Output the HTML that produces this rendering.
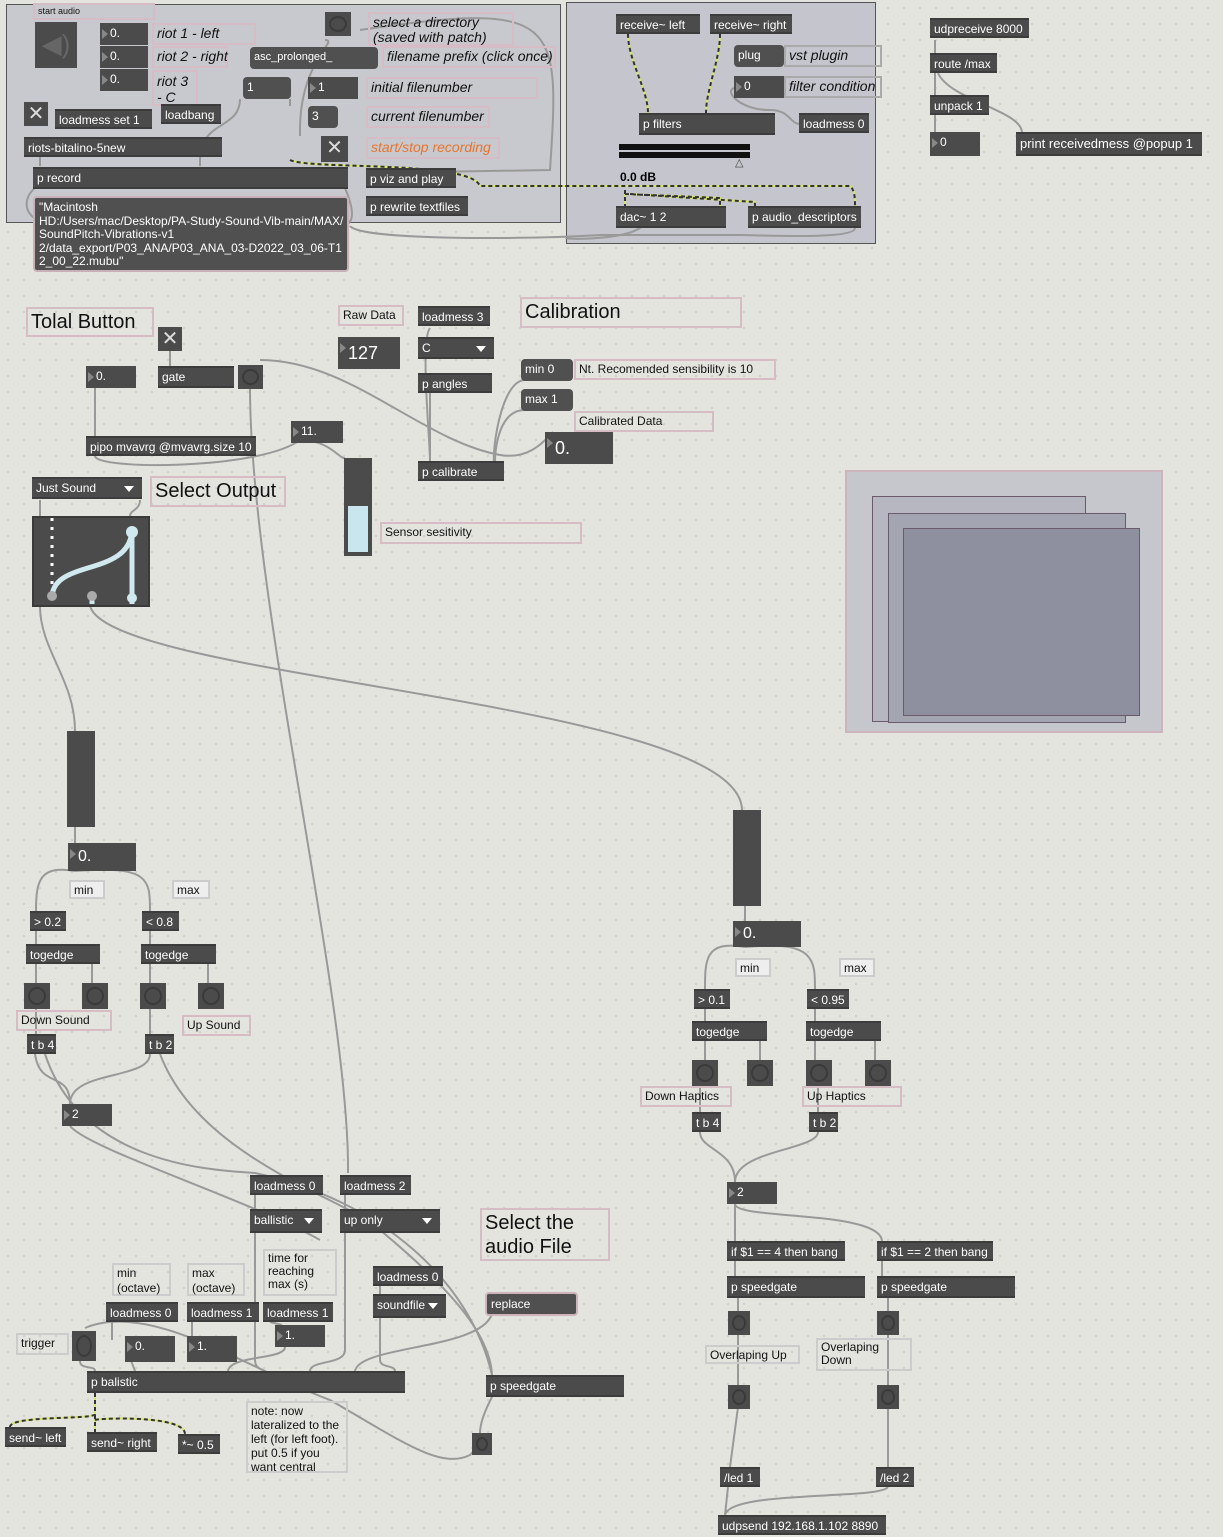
<!DOCTYPE html>
<html><head><meta charset="utf-8"><style>
body{margin:0;width:1223px;height:1537px;position:relative;overflow:hidden;background:#e4e4df;font-family:"Liberation Sans",sans-serif;
background-image:radial-gradient(#c9c9c4 0.8px,transparent 1px);background-size:16px 16px;}
div{position:absolute;box-sizing:border-box;white-space:nowrap}
.o{background:#4b4b4b;color:#fff;font-size:12px;line-height:18px;height:20px;padding-left:4px;border-top:2px solid #3c3c3c;border-bottom:2px solid #3c3c3c}
.m{background:#505050;color:#fff;font-size:12px;line-height:20px;height:22px;padding-left:4px;border-radius:4px}
.n{background:#4b4b4b;color:#fff;font-size:12px;line-height:20px;height:22px;padding-left:10px}
.n:before{content:"";position:absolute;left:2px;top:6px;border-left:6px solid #888;border-top:5px solid transparent;border-bottom:5px solid transparent}
.c{border:2px solid #d6bcc4;color:#111;font-size:12px;line-height:15px;padding:1px 3px}
.i{font-style:italic;font-size:14px}
.b{background:#4b4b4b;}
.b:after{content:"";position:absolute;left:4px;top:4px;right:4px;bottom:4px;border:2px solid #3a3a3a;border-radius:50%}
.t{background:#4b4b4b;color:#ddd;text-align:center;font-size:20px;line-height:24px}
.u:after{content:"";position:absolute;right:8px;top:7px;border-top:6px solid #fff;border-left:5px solid transparent;border-right:5px solid transparent}
.big{font-size:20px;line-height:24px}
.sl{background:#4b4b4b}
</style></head><body>
<!-- panels -->
<div style="left:6px;top:4px;width:555px;height:219px;background:#c8c9ce;border:1px solid #555;"></div>
<div style="left:566px;top:2px;width:310px;height:242px;background:#c5c6cd;border:1px solid #555;"></div>
<div style="left:845px;top:470px;width:318px;height:263px;background:#c6c7cd;border:2px solid #cdb3bc;"></div>
<div style="left:872px;top:496px;width:214px;height:226px;border:1px solid #6a5a6a;background:#b6b7c0"></div>
<div style="left:888px;top:513px;width:238px;height:210px;border:1px solid #6a5a6a;background:#a3a5b1"></div>
<div style="left:903px;top:528px;width:237px;height:188px;border:1px solid #6a5a6a;background:#8e90a0"></div>

<svg width="1223" height="1537" style="position:absolute;left:0;top:0" fill="none" stroke="#999" stroke-width="2">
<path d="M40 156 L40 166"/><path d="M240 99 C240 130 200 120 200 160 L200 166"/>
<path d="M325 40 C340 40 300 60 300 130"/><path d="M360 30 C560 0 560 20 550 170 L430 172"/>
<path d="M290 99 L290 106"/><path d="M300 128 L300 136"/>
<path d="M35 188 C20 200 20 230 80 226 L340 226 C360 226 350 200 345 188"/>
<path d="M350 226 C360 240 520 240 600 235 L740 235 C760 235 855 240 855 228"/>
<path d="M645 220 C645 240 566 240 566 238"/>
<path d="M740 88 C720 85 735 110 770 110 C790 110 790 124 800 124"/>
<path d="M935 40 L935 53 M935 73 L935 95 M935 115 L935 132"/><path d="M938 73 C950 100 1020 110 1022 132"/>
<path d="M95 388 L95 436"/><path d="M95 456 C95 470 260 470 300 440"/><path d="M170 350 L170 366"/>
<path d="M250 388 C250 600 350 1000 348 1173"/><path d="M260 360 C350 360 420 440 500 455 C530 460 545 440 553 432"/>
<path d="M430 328 C420 340 430 440 430 461"/><path d="M430 393 L430 461"/><path d="M525 410 C495 410 495 461 495 461"/>
<path d="M525 380 C500 380 490 460 495 470"/><path d="M360 556 C360 520 370 470 350 460"/><path d="M300 440 C330 440 340 460 345 458"/>
<path d="M40 606 C40 650 75 680 75 731"/><path d="M90 606 C110 680 740 700 742 810"/>
<path d="M40 500 L40 516"/><path d="M140 500 C140 510 130 510 130 516"/>
<path d="M75 827 L75 843"/><path d="M75 871 C40 865 36 880 36 911"/><path d="M75 871 C150 865 150 880 150 911"/>
<path d="M36 931 L36 944 M150 931 L150 944 M36 964 L36 983 M150 964 L150 983 M92 964 L92 983 M208 964 L208 983"/>
<path d="M36 1009 L36 1034 M150 1009 L150 1034"/>
<path d="M35 1054 C40 1090 70 1070 70 1104"/><path d="M150 1054 C150 1080 70 1070 70 1104"/>
<path d="M45 1054 C80 1160 200 1170 255 1173 C380 1200 470 1280 492 1375"/>
<path d="M160 1054 C200 1160 350 1200 380 1230 C440 1280 490 1330 492 1375"/>
<path d="M70 1126 C90 1150 250 1200 320 1240"/>
<path d="M255 1193 L255 1209 M345 1193 L345 1209 M380 1285 L380 1294"/>
<path d="M255 1231 L255 1360 C255 1370 265 1370 265 1371"/><path d="M345 1231 L345 1350 C345 1365 310 1360 310 1371"/>
<path d="M380 1316 L380 1360 C380 1368 395 1365 395 1371"/><path d="M492 1314 C480 1350 360 1345 355 1371"/>
<path d="M112 1322 L112 1340 M192 1322 L192 1336 M270 1322 L282 1325 M285 1347 C285 1360 230 1355 228 1371"/>
<path d="M80 1361 C80 1370 95 1365 95 1371 M130 1358 L135 1371"/>
<path d="M85 1328 C150 1300 250 1370 330 1400 C400 1440 440 1470 470 1455 L478 1446"/>
<path d="M492 1397 C480 1420 480 1430 480 1433"/>
<path d="M745 906 L745 921"/><path d="M745 947 C705 940 705 960 705 989"/><path d="M745 947 C815 940 815 960 815 989"/>
<path d="M705 1009 L705 1021 M815 1009 L815 1021 M705 1041 L705 1060 M815 1041 L815 1060 M760 1041 L760 1060 M875 1041 L875 1060"/>
<path d="M700 1086 L700 1112 M818 1086 L818 1112"/>
<path d="M700 1132 C700 1150 735 1150 735 1182 M818 1132 C818 1150 735 1150 735 1182"/>
<path d="M735 1204 L735 1241 M735 1204 C735 1220 880 1210 882 1241"/>
<path d="M735 1261 L735 1276 M882 1261 L882 1276 M738 1298 L738 1311 M888 1298 L888 1311 M738 1333 L738 1385 M888 1333 L888 1385 M738 1407 L730 1467 M888 1407 L888 1467"/>
<path d="M728 1487 L725 1515 M888 1487 C880 1500 730 1490 725 1515"/>
</svg>
<svg width="1223" height="1537" style="position:absolute;left:0;top:0" fill="none" stroke-width="2">
<g stroke="#d6e66a">
<path d="M628 34 C628 60 648 90 648 113"/><path d="M720 34 C720 60 706 90 706 113"/>
<path d="M290 160 C310 170 470 160 480 186 L850 186 C855 190 855 200 855 206"/>
<path d="M625 190 L625 206 M625 194 L720 198 L720 206 M630 194 L755 202 L755 206"/>
<path d="M95 1393 L95 1414 C95 1420 10 1415 10 1427 M95 1415 L95 1432 M95 1420 C100 1418 185 1415 185 1434"/>
</g>
<g stroke="#333" stroke-dasharray="4,3">
<path d="M628 34 C628 60 648 90 648 113"/><path d="M720 34 C720 60 706 90 706 113"/>
<path d="M290 160 C310 170 470 160 480 186 L850 186 C855 190 855 200 855 206"/>
<path d="M625 190 L625 206 M625 194 L720 198 L720 206 M630 194 L755 202 L755 206"/>
<path d="M95 1393 L95 1414 C95 1420 10 1415 10 1427 M95 1415 L95 1432 M95 1420 C100 1418 185 1415 185 1434"/>
</g>
</svg>

<!-- top left -->
<div class="c" style="left:33px;top:3px;width:122px;height:17px;font-size:9px;line-height:11px">start audio</div>
<div class="sl" style="left:35px;top:22px;width:42px;height:46px;color:#666;font-size:26px;text-align:center;line-height:44px">◀)</div>
<div class="n" style="left:100px;top:23px;width:48px">0.</div>
<div class="n" style="left:100px;top:46px;width:48px">0.</div>
<div class="n" style="left:100px;top:69px;width:48px">0.</div>
<div class="c i" style="left:152px;top:23px;width:104px;height:22px">riot 1 - left</div>
<div class="c i" style="left:152px;top:46px;width:76px;height:22px">riot 2 - right</div>
<div class="c i" style="left:152px;top:70px;width:46px;height:36px;line-height:16px">riot 3<br>- C</div>
<div class="b" style="left:325px;top:12px;width:26px;height:24px"></div>
<div class="c i" style="left:368px;top:12px;width:146px;height:34px;white-space:normal;line-height:15px">select a directory (saved with patch)</div>
<div class="m" style="left:250px;top:47px;width:128px;font-size:11px">asc_prolonged_</div>
<div class="c i" style="left:382px;top:46px;width:174px;height:22px">filename prefix (click once)</div>
<div class="m" style="left:243px;top:77px;width:48px">1</div>
<div class="n" style="left:308px;top:77px;width:50px">1</div>
<div class="c i" style="left:366px;top:77px;width:172px;height:22px">initial filenumber</div>
<div class="m" style="left:308px;top:106px;width:30px">3</div>
<div class="c i" style="left:366px;top:106px;width:124px;height:22px">current filenumber</div>
<div class="t" style="left:321px;top:136px;width:27px;height:26px">✕</div>
<div class="c i" style="left:366px;top:137px;width:134px;height:22px;color:#e8742c">start/stop recording</div>
<div class="t" style="left:24px;top:102px;width:24px;height:24px">✕</div>
<div class="o" style="left:55px;top:109px;width:97px">loadmess set 1</div>
<div class="o" style="left:161px;top:104px;width:60px">loadbang</div>
<div class="o" style="left:24px;top:137px;width:198px">riots-bitalino-5new</div>
<div class="o" style="left:33px;top:167px;width:315px;height:22px">p record</div>
<div class="o" style="left:366px;top:168px;width:90px">p viz and play</div>
<div class="o" style="left:366px;top:196px;width:102px">p rewrite textfiles</div>
<div class="m" style="left:33px;top:196px;width:316px;height:76px;line-height:13.5px;padding-top:3px;border:2px solid #c8b0b8">"Macintosh<br>HD:/Users/mac/Desktop/PA-Study-Sound-Vib-main/MAX/<br>SoundPitch-Vibrations-v1<br>2/data_export/P03_ANA/P03_ANA_03-D2022_03_06-T1<br>2_00_22.mubu"</div>

<!-- panel 2 -->
<div class="o" style="left:616px;top:14px;width:84px">receive~ left</div>
<div class="o" style="left:710px;top:14px;width:82px">receive~ right</div>
<div class="m" style="left:734px;top:45px;width:50px">plug</div>
<div class="c i" style="left:784px;top:45px;width:98px;height:22px;border-color:#aaa">vst plugin</div>
<div class="n" style="left:734px;top:76px;width:50px">0</div>
<div class="c i" style="left:784px;top:76px;width:98px;height:22px;border-color:#aaa">filter condition</div>
<div class="o" style="left:639px;top:113px;width:136px;height:22px">p filters</div>
<div class="o" style="left:799px;top:113px;width:70px">loadmess 0</div>
<div style="left:619px;top:144px;width:131px;height:6px;background:#111"></div>
<div style="left:619px;top:152px;width:131px;height:6px;background:#111"></div>
<div style="left:735px;top:156px;color:#444;font-size:11px">△</div>
<div style="left:620px;top:170px;font-size:12px;font-weight:bold">0.0 dB</div>
<div class="o" style="left:616px;top:206px;width:110px;height:22px">dac~ 1 2</div>
<div class="o" style="left:748px;top:206px;width:113px;height:22px">p audio_descriptors</div>

<!-- top right -->
<div class="o" style="left:930px;top:18px;width:99px">udpreceive 8000</div>
<div class="o" style="left:930px;top:53px;width:67px">route /max</div>
<div class="o" style="left:930px;top:95px;width:59px">unpack 1</div>
<div class="n" style="left:930px;top:132px;width:50px;height:24px">0</div>
<div class="o" style="left:1016px;top:132px;width:186px;height:24px;line-height:20px;font-size:13px">print receivedmess @popup 1</div>

<!-- middle -->
<div class="c big" style="left:26px;top:307px;width:128px;height:30px">Tolal Button</div>
<div class="t" style="left:158px;top:327px;width:24px;height:24px">✕</div>
<div class="n" style="left:86px;top:366px;width:50px">0.</div>
<div class="o" style="left:158px;top:366px;width:76px;height:22px">gate</div>
<div class="b" style="left:238px;top:365px;width:25px;height:24px"></div>
<div class="o" style="left:86px;top:436px;width:170px">pipo mvavrg @mvavrg.size 10</div>
<div class="n" style="left:291px;top:421px;width:52px">11.</div>
<div class="c" style="left:338px;top:305px;width:66px;height:21px">Raw Data</div>
<div class="n" style="left:338px;top:337px;width:62px;height:32px;font-size:18px;line-height:32px">127</div>
<div class="o" style="left:418px;top:306px;width:72px">loadmess 3</div>
<div class="o u" style="left:418px;top:337px;width:76px;height:22px">C</div>
<div class="o" style="left:418px;top:373px;width:74px">p angles</div>
<div class="o" style="left:418px;top:461px;width:86px">p calibrate</div>
<div class="c big" style="left:520px;top:297px;width:222px;height:31px">Calibration</div>
<div class="m" style="left:521px;top:359px;width:52px">min 0</div>
<div class="c" style="left:574px;top:359px;width:202px;height:21px">Nt. Recomended sensibility is 10</div>
<div class="m" style="left:521px;top:389px;width:52px">max 1</div>
<div class="c" style="left:574px;top:411px;width:140px;height:21px">Calibrated Data</div>
<div class="n" style="left:545px;top:432px;width:68px;height:32px;font-size:18px;line-height:32px">0.</div>
<div class="sl" style="left:344px;top:458px;width:28px;height:98px"><div style="left:4px;top:48px;width:20px;height:46px;background:#c9e6ee"></div></div>
<div class="c" style="left:380px;top:522px;width:202px;height:22px">Sensor sesitivity</div>
<div class="o u" style="left:32px;top:477px;width:110px;height:22px">Just Sound</div>
<div class="c big" style="left:150px;top:476px;width:136px;height:31px">Select Output</div>
<div class="sl" style="left:32px;top:516px;width:118px;height:91px;border:2px solid #3a3a3a">
<svg width="116" height="88" style="position:absolute;left:0;top:0"><g fill="none"><path d="M18 0 L18 80" stroke="#fff" stroke-width="3" stroke-dasharray="3,6"/><path d="M98 10 C98 60 18 40 18 80" stroke="#cfe9ef" stroke-width="5"/><path d="M58 80 L58 86 M98 10 L98 86" stroke="#cfe9ef" stroke-width="5"/></g>
<circle cx="18" cy="78" r="5" fill="#aaa"/><circle cx="58" cy="78" r="5" fill="#aaa"/><circle cx="98" cy="80" r="5" fill="#cfe9ef"/><circle cx="98" cy="14" r="6" fill="#cfe9ef"/></svg></div>

<!-- lower left -->
<div class="sl" style="left:67px;top:731px;width:28px;height:96px"></div>
<div class="n" style="left:68px;top:843px;width:68px;height:28px;font-size:16px;line-height:28px">0.</div>
<div class="c" style="left:69px;top:880px;width:36px;height:19px;border-color:#ccc;background:#eee">min</div>
<div class="c" style="left:172px;top:880px;width:38px;height:19px;border-color:#ccc;background:#eee">max</div>
<div class="o" style="left:30px;top:911px;width:36px">&gt; 0.2</div>
<div class="o" style="left:142px;top:911px;width:37px">&lt; 0.8</div>
<div class="o" style="left:26px;top:944px;width:74px">togedge</div>
<div class="o" style="left:141px;top:944px;width:75px">togedge</div>
<div class="b" style="left:24px;top:983px;width:26px;height:26px"></div>
<div class="b" style="left:82px;top:983px;width:26px;height:26px"></div>
<div class="b" style="left:140px;top:983px;width:26px;height:26px"></div>
<div class="b" style="left:198px;top:983px;width:26px;height:26px"></div>
<div class="c" style="left:16px;top:1010px;width:96px;height:21px">Down Sound</div>
<div class="c" style="left:182px;top:1015px;width:69px;height:21px">Up Sound</div>
<div class="o" style="left:27px;top:1034px;width:29px">t b 4</div>
<div class="o" style="left:145px;top:1034px;width:29px">t b 2</div>
<div class="n" style="left:62px;top:1104px;width:50px">2</div>

<!-- bottom -->
<div class="o" style="left:250px;top:1175px;width:73px">loadmess 0</div>
<div class="o" style="left:340px;top:1175px;width:71px">loadmess 2</div>
<div class="o u" style="left:250px;top:1209px;width:72px;height:24px">ballistic</div>
<div class="o u" style="left:340px;top:1209px;width:100px;height:24px">up only</div>
<div class="c big" style="left:480px;top:1208px;width:130px;height:53px;white-space:normal">Select the audio File</div>
<div class="c" style="left:112px;top:1263px;width:59px;height:33px;border-color:#ccc;white-space:normal">min (octave)</div>
<div class="c" style="left:187px;top:1263px;width:58px;height:33px;border-color:#ccc;white-space:normal">max (octave)</div>
<div class="c" style="left:263px;top:1249px;width:74px;height:47px;border-color:#ccc;white-space:normal;line-height:13px">time for reaching max (s)</div>
<div class="o" style="left:373px;top:1266px;width:70px">loadmess 0</div>
<div class="o u" style="left:373px;top:1294px;width:73px;height:24px">soundfile</div>
<div class="m" style="left:485px;top:1292px;width:93px;height:24px;border:2px solid #cdb3bc">replace</div>
<div class="o" style="left:106px;top:1302px;width:72px">loadmess 0</div>
<div class="o" style="left:187px;top:1302px;width:72px">loadmess 1</div>
<div class="o" style="left:263px;top:1302px;width:70px">loadmess 1</div>
<div class="c" style="left:16px;top:1333px;width:53px;height:22px;border-color:#ccc">trigger</div>
<div class="b" style="left:72px;top:1331px;width:24px;height:30px"></div>
<div class="n" style="left:125px;top:1336px;width:50px;height:26px">0.</div>
<div class="n" style="left:187px;top:1336px;width:50px;height:26px">1.</div>
<div class="n" style="left:275px;top:1325px;width:50px;height:22px">1.</div>
<div class="o" style="left:87px;top:1371px;width:318px;height:22px">p balistic</div>
<div class="o" style="left:486px;top:1375px;width:138px;height:22px">p speedgate</div>
<div class="o" style="left:5px;top:1427px;width:61px">send~ left</div>
<div class="o" style="left:87px;top:1432px;width:70px">send~ right</div>
<div class="o" style="left:178px;top:1434px;width:42px">*~ 0.5</div>
<div class="c" style="left:246px;top:1401px;width:102px;height:72px;border-color:#ccc;white-space:normal;line-height:14px">note: now lateralized to the left (for left foot). put 0.5 if you want central</div>
<div class="b" style="left:472px;top:1433px;width:20px;height:22px"></div>

<!-- lower right -->
<div class="sl" style="left:733px;top:810px;width:28px;height:96px"></div>
<div class="n" style="left:733px;top:921px;width:68px;height:26px;font-size:16px;line-height:26px">0.</div>
<div class="c" style="left:735px;top:958px;width:36px;height:19px;border-color:#ccc;background:#eee">min</div>
<div class="c" style="left:839px;top:958px;width:36px;height:19px;border-color:#ccc;background:#eee">max</div>
<div class="o" style="left:694px;top:989px;width:36px">&gt; 0.1</div>
<div class="o" style="left:807px;top:989px;width:42px">&lt; 0.95</div>
<div class="o" style="left:692px;top:1021px;width:75px">togedge</div>
<div class="o" style="left:806px;top:1021px;width:75px">togedge</div>
<div class="b" style="left:692px;top:1060px;width:26px;height:26px"></div>
<div class="b" style="left:747px;top:1060px;width:26px;height:26px"></div>
<div class="b" style="left:806px;top:1060px;width:26px;height:26px"></div>
<div class="b" style="left:865px;top:1060px;width:26px;height:26px"></div>
<div class="c" style="left:640px;top:1086px;width:92px;height:21px">Down Haptics</div>
<div class="c" style="left:802px;top:1086px;width:100px;height:21px">Up Haptics</div>
<div class="o" style="left:692px;top:1112px;width:29px">t b 4</div>
<div class="o" style="left:809px;top:1112px;width:29px">t b 2</div>
<div class="n" style="left:727px;top:1182px;width:50px">2</div>
<div class="o" style="left:727px;top:1241px;width:118px">if $1 == 4 then bang</div>
<div class="o" style="left:877px;top:1241px;width:116px">if $1 == 2 then bang</div>
<div class="o" style="left:727px;top:1276px;width:138px;height:22px">p speedgate</div>
<div class="o" style="left:877px;top:1276px;width:138px;height:22px">p speedgate</div>
<div class="b" style="left:728px;top:1311px;width:22px;height:24px"></div>
<div class="b" style="left:877px;top:1311px;width:22px;height:24px"></div>
<div class="c" style="left:705px;top:1345px;width:95px;height:19px;border-color:#ccc">Overlaping Up</div>
<div class="c" style="left:816px;top:1338px;width:96px;height:33px;border-color:#ccc;white-space:normal;line-height:13px">Overlaping Down</div>
<div class="b" style="left:728px;top:1385px;width:22px;height:24px"></div>
<div class="b" style="left:877px;top:1385px;width:22px;height:24px"></div>
<div class="o" style="left:720px;top:1467px;width:40px">/led 1</div>
<div class="o" style="left:876px;top:1467px;width:38px">/led 2</div>
<div class="o" style="left:718px;top:1515px;width:168px">udpsend 192.168.1.102 8890</div>
</body></html>
